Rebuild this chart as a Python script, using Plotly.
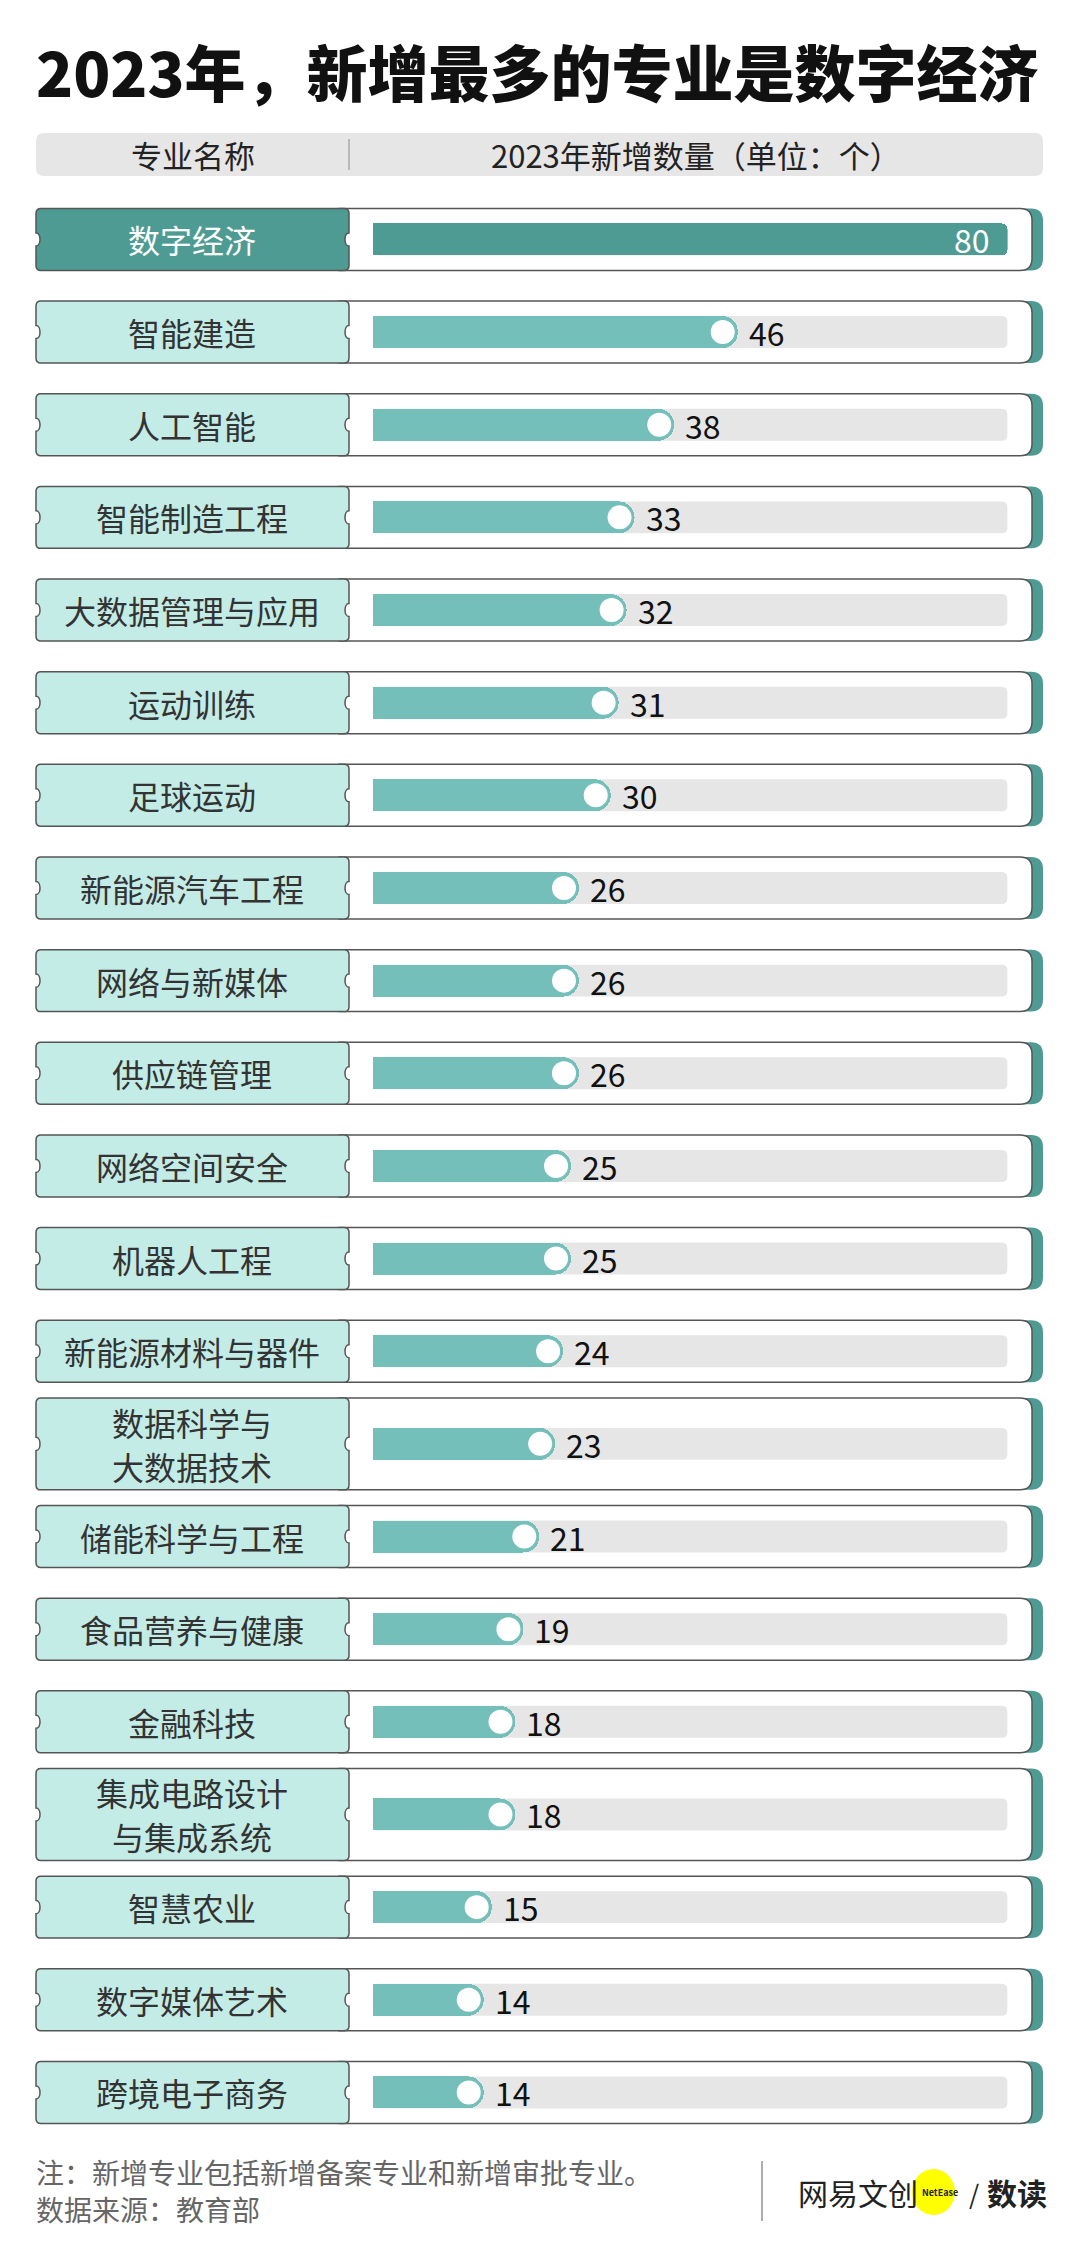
import plotly.graph_objects as go

# ---------------- data ----------------
TITLE = "2023年，新增最多的专业是数字经济"
HEADER_LEFT = "专业名称"
HEADER_RIGHT = "2023年新增数量（单位：个）"
majors = ["数字经济", "智能建造", "人工智能", "智能制造工程", "大数据管理与应用",
          "运动训练", "足球运动", "新能源汽车工程", "网络与新媒体", "供应链管理",
          "网络空间安全", "机器人工程", "新能源材料与器件", "数据科学与<br>大数据技术",
          "储能科学与工程", "食品营养与健康", "金融科技", "集成电路设计<br>与集成系统",
          "智慧农业", "数字媒体艺术", "跨境电子商务"]
counts = [80, 46, 38, 33, 32, 31, 30, 26, 26, 26, 25, 25, 24, 23, 21, 19, 18, 18, 15, 14, 14]
NOTES = ["注：新增专业包括新增备案专业和新增审批专业。", "数据来源：教育部"]
X_MAX = 80

# ---------------- layout constants (pixels) ----------------
W, H = 1080, 2262
FONT = "Noto Sans CJK SC"
DARK = "#4e9b94"
LIGHT = "#c3ece7"
FILL = "#74bfba"
TRACK = "#e6e6e6"
EDGE = "#555555"

TRACK_L, TRACK_R = 372.6, 1007.6
ROW_TOP, PITCH = 193.1, 92.65
N = len(majors)
ROW_BOTTOM = ROW_TOP + N * PITCH
LBL_L, LBL_R = 36.0, 349.0
BOX_R = 1032.0
SHADOW = 11.0
PXU = (TRACK_R - TRACK_L) / X_MAX   # px per data unit along x
BAR_H = 32.0
LINE_GAP = 44.0


def px(x):
    return x / W


def py(y):
    return 1 - y / H


def f(v):
    return f"{v:.5f}"


rows = list(range(N))
shapes = []
annotations = []

# header bar
hx0, hx1, hy0, hy1, hr = px(36), px(1043), py(133), py(176), 8
rxp, ryp = hr / W, hr / H
shapes.append(dict(type="path", xref="paper", yref="paper", layer="below",
                   fillcolor="#e6e6e6", line=dict(width=0),
                   path=(f"M{f(hx0+rxp)},{f(hy0)} L{f(hx1-rxp)},{f(hy0)} Q{f(hx1)},{f(hy0)} {f(hx1)},{f(hy0-ryp)} "
                         f"L{f(hx1)},{f(hy1+ryp)} Q{f(hx1)},{f(hy1)} {f(hx1-rxp)},{f(hy1)} L{f(hx0+rxp)},{f(hy1)} "
                         f"Q{f(hx0)},{f(hy1)} {f(hx0)},{f(hy1+ryp)} L{f(hx0)},{f(hy0-ryp)} Q{f(hx0)},{f(hy0)} {f(hx0+rxp)},{f(hy0)} Z")))
shapes.append(dict(type="line", xref="paper", yref="paper", x0=px(349), x1=px(349), y0=py(139), y1=py(170),
                   line=dict(color="#9a9a9a", width=1.2)))

for i, name in enumerate(majors):
    lines = name.split("<br>")
    two = len(lines) > 1
    hh = (46.0 if two else 31.0) / PITCH
    yt, yb = i - hh, i + hh
    # shadow + white box (right part)
    for dx, col, ln in ((SHADOW, DARK, None), (0.0, "white", EDGE)):
        x0, x1 = px(LBL_R - 10), px(BOX_R + dx)
        R = 12.0
        rx, ry = R / W, R / PITCH
        p = (f"M{f(x0)},{f(yt)} L{f(x1-rx)},{f(yt)} Q{f(x1)},{f(yt)} {f(x1)},{f(yt+ry)} "
             f"L{f(x1)},{f(yb-ry)} Q{f(x1)},{f(yb)} {f(x1-rx)},{f(yb)} L{f(x0)},{f(yb)} Z")
        shapes.append(dict(type="path", xref="paper", yref="y", layer="below", fillcolor=col,
                           line=dict(color=ln, width=1.5) if ln else dict(width=0), path=p))
    # label ticket box with notches
    x0, x1 = px(LBL_L), px(LBL_R)
    r = 5.0
    rx, ry = r / W, r / PITCH
    nr = 6.5 / PITCH
    nd = 4.0 / W * 4 / 3
    p = (f"M{f(x0+rx)},{f(yt)} L{f(x1-rx)},{f(yt)} Q{f(x1)},{f(yt)} {f(x1)},{f(yt+ry)} "
         f"L{f(x1)},{f(i-nr)} C{f(x1-nd)},{f(i-nr)} {f(x1-nd)},{f(i+nr)} {f(x1)},{f(i+nr)} "
         f"L{f(x1)},{f(yb-ry)} Q{f(x1)},{f(yb)} {f(x1-rx)},{f(yb)} L{f(x0+rx)},{f(yb)} "
         f"Q{f(x0)},{f(yb)} {f(x0)},{f(yb-ry)} L{f(x0)},{f(i+nr)} "
         f"C{f(x0+nd)},{f(i+nr)} {f(x0+nd)},{f(i-nr)} {f(x0)},{f(i-nr)} "
         f"L{f(x0)},{f(yt+ry)} Q{f(x0)},{f(yt)} {f(x0+rx)},{f(yt)} Z")
    shapes.append(dict(type="path", xref="paper", yref="y", layer="below",
                       fillcolor=DARK if i == 0 else LIGHT, line=dict(color=EDGE, width=1.5), path=p))
    # grey track (full scale)
    th = BAR_H / 2 / PITCH
    tr = 6.0
    trx, tr_y = tr / PXU, tr / PITCH
    p = (f"M{f(trx)},{f(i-th)} L{f(X_MAX-trx)},{f(i-th)} Q{X_MAX},{f(i-th)} {X_MAX},{f(i-th+tr_y)} "
         f"L{X_MAX},{f(i+th-tr_y)} Q{X_MAX},{f(i+th)} {f(X_MAX-trx)},{f(i+th)} L{f(trx)},{f(i+th)} "
         f"Q0,{f(i+th)} 0,{f(i+th-tr_y)} L0,{f(i-th+tr_y)} Q0,{f(i-th)} {f(trx)},{f(i-th)} Z")
    shapes.append(dict(type="path", xref="x", yref="y", layer="below",
                       fillcolor=TRACK, line=dict(width=0), path=p))
    # label text (one annotation per line)
    for k, t in enumerate(lines):
        off = (k - (len(lines) - 1) / 2) * LINE_GAP / PITCH
        annotations.append(dict(x=px((LBL_L + LBL_R) / 2), xref="paper", y=i + off, yref="y", text=t,
                                showarrow=False, xanchor="center", yanchor="middle",
                                font=dict(family=FONT, size=32, color="white" if i == 0 else "#333333")))
    # value text
    v = counts[i]
    if i == 0:
        annotations.append(dict(x=v, xref="x", y=i, yref="y", text=str(v), showarrow=False,
                                xanchor="right", yanchor="middle", xshift=-16,
                                font=dict(family=FONT, size=32, color="white")))
    else:
        annotations.append(dict(x=v, xref="x", y=i, yref="y", text=str(v), showarrow=False,
                                xanchor="left", yanchor="middle", xshift=9,
                                font=dict(family=FONT, size=32, color="#111111")))

fig = go.Figure()
bw = BAR_H / PITCH
fig.add_trace(go.Bar(x=counts[:1], y=rows[:1], orientation="h", width=bw,
                     marker=dict(color=DARK, cornerradius=6, line=dict(width=0)),
                     hoverinfo="skip", showlegend=False))
fig.add_trace(go.Bar(x=counts[1:], y=rows[1:], orientation="h", width=bw,
                     marker=dict(color=FILL, cornerradius=16, line=dict(width=0)),
                     hoverinfo="skip", showlegend=False))
DOT_BACK = 15.0 / PXU
fig.add_trace(go.Scatter(x=[v - DOT_BACK for v in counts[1:]], y=rows[1:], mode="markers",
                         marker=dict(size=24, color="white", line=dict(width=0)),
                         hoverinfo="skip", showlegend=False, cliponaxis=False))

# title, header
annotations.append(dict(x=px(34), y=py(70), xref="paper", yref="paper", text=TITLE, showarrow=False,
                        xanchor="left", yanchor="middle",
                        font=dict(family=FONT, size=61, color="#111111", weight=900)))
annotations.append(dict(x=px(193), y=py(155), xref="paper", yref="paper", text=HEADER_LEFT, showarrow=False,
                        xanchor="center", yanchor="middle", font=dict(family=FONT, size=31, color="#222222")))
annotations.append(dict(x=px(696), y=py(155), xref="paper", yref="paper", text=HEADER_RIGHT, showarrow=False,
                        xanchor="center", yanchor="middle", font=dict(family=FONT, size=31, color="#222222")))

# footer notes
for k, t in enumerate(NOTES):
    annotations.append(dict(x=px(34), y=py(2172 + 37 * k), xref="paper", yref="paper", text=t, showarrow=False,
                            xanchor="left", yanchor="middle", font=dict(family=FONT, size=28, color="#666666")))
shapes.append(dict(type="line", xref="paper", yref="paper", x0=px(762), x1=px(762), y0=py(2161), y1=py(2221),
                   line=dict(color="#777777", width=1.2)))
# logo
shapes.append(dict(type="circle", xref="paper", yref="paper", x0=px(912), x1=px(955), y0=py(2169), y1=py(2215),
                   fillcolor="#ffff00", line=dict(width=0)))
annotations.append(dict(x=px(796), y=py(2192), xref="paper", yref="paper", text="网易文创", showarrow=False,
                        xanchor="left", yanchor="middle", font=dict(family=FONT, size=30, color="#222222")))
annotations.append(dict(x=px(940), y=py(2192), xref="paper", yref="paper", text="<b>NetEase</b>", showarrow=False,
                        xanchor="center", yanchor="middle", font=dict(family=FONT, size=9, color="#222222")))
annotations.append(dict(x=px(967), y=py(2192), xref="paper", yref="paper", text="/", showarrow=False,
                        xanchor="left", yanchor="middle", font=dict(family=FONT, size=26, color="#222222")))
annotations.append(dict(x=px(985), y=py(2192), xref="paper", yref="paper", text="<b>数读</b>", showarrow=False,
                        xanchor="left", yanchor="middle", font=dict(family=FONT, size=30, color="#222222")))

fig.update_layout(
    width=W, height=H, autosize=False,
    margin=dict(l=0, r=0, t=0, b=0, pad=0),
    paper_bgcolor="white", plot_bgcolor="rgba(0,0,0,0)",
    barmode="overlay", bargap=0,
    shapes=shapes, annotations=annotations,
    xaxis=dict(domain=[TRACK_L / W, TRACK_R / W], range=[0, X_MAX], visible=False, fixedrange=True),
    yaxis=dict(domain=[1 - ROW_BOTTOM / H, 1 - ROW_TOP / H], range=[N - 0.5, -0.5], visible=False,
               fixedrange=True),
    font=dict(family=FONT),
)

fig.write_html("out.html", config={"displayModeBar": False, "staticPlot": True},
               post_script="document.body.style.margin='0';")
